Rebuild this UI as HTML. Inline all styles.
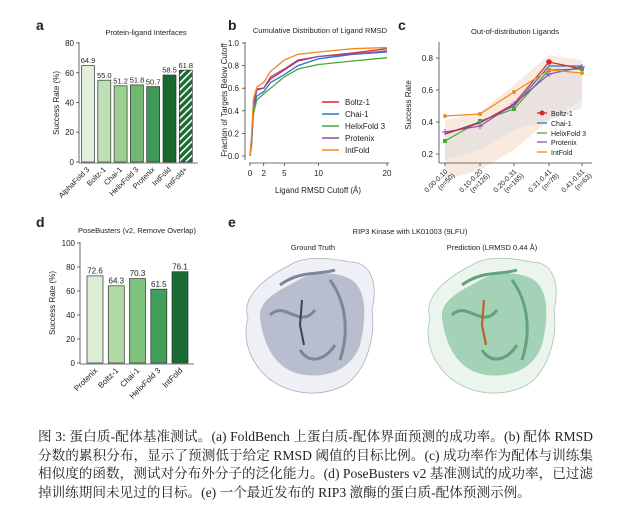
<!DOCTYPE html>
<html><head><meta charset="utf-8"><style>
body{margin:0;background:#fff;width:640px;height:525px;overflow:hidden;position:relative}
svg{position:absolute;left:0;top:0}
svg text{font-family:"Liberation Sans",Arial,sans-serif;fill:#222}
.cap{position:absolute;left:38px;width:555px;font-family:"Liberation Serif","Noto Serif CJK SC",serif;font-size:13.6px;color:#222;line-height:18.5px;top:428px}
.cap div{text-align:justify;text-align-last:justify;white-space:nowrap}
.cap div.l{text-align-last:left}
</style></head><body>
<svg width="640" height="525" viewBox="0 0 640 525">
<defs>
<pattern id="h" width="5" height="5" patternUnits="userSpaceOnUse" patternTransform="rotate(45)">
<rect width="5" height="5" fill="#1d6b33"/><rect width="1.6" height="5" fill="#fff"/></pattern>
</defs>
<g font-weight="bold" font-size="14">
<text x="36" y="30">a</text><text x="228" y="30">b</text><text x="398" y="30">c</text>
<text x="36" y="227">d</text><text x="228" y="227">e</text></g>

<!-- Panel a -->
<text x="146" y="35" font-size="7.5" text-anchor="middle">Protein-ligand Interfaces</text>
<g stroke="#444" stroke-width="0.8" fill="none">
<line x1="79" y1="42" x2="79" y2="163"/><line x1="79" y1="163" x2="198" y2="163"/>
<line x1="76" y1="43" x2="79" y2="43"/><line x1="76" y1="72.8" x2="79" y2="72.8"/><line x1="76" y1="102.5" x2="79" y2="102.5"/><line x1="76" y1="132.2" x2="79" y2="132.2"/><line x1="76" y1="162" x2="79" y2="162"/>
</g>
<g font-size="8" text-anchor="end"><text x="74" y="46">80</text><text x="74" y="76">60</text><text x="74" y="105.5">40</text><text x="74" y="135">20</text><text x="74" y="165">0</text></g>
<text transform="translate(59,103) rotate(-90)" font-size="8" text-anchor="middle">Success Rate (%)</text>
<g stroke="#333" stroke-width="0.7">
<rect x="81.5" y="65.5" width="13" height="96.5" fill="#e1efdb"/>
<rect x="97.8" y="80.2" width="13" height="81.8" fill="#bfe0b6"/>
<rect x="114.1" y="85.8" width="13" height="76.2" fill="#9ccf91"/>
<rect x="130.4" y="84.9" width="13" height="77.1" fill="#72b873"/>
<rect x="146.7" y="86.6" width="13" height="75.4" fill="#3e9a56"/>
<rect x="163" y="75" width="13" height="87" fill="#17692f"/>
<rect x="179.3" y="70.1" width="13" height="91.9" fill="url(#h)"/>
</g>
<g font-size="7.5" text-anchor="middle">
<text x="88" y="63">64.9</text><text x="104.3" y="78">55.0</text><text x="120.6" y="83.5">51.2</text><text x="137" y="82.6">51.8</text><text x="153.2" y="84.3">50.7</text><text x="169.5" y="72.7">58.5</text><text x="185.8" y="67.8">61.8</text></g>
<g font-size="7.5" text-anchor="end">
<text transform="translate(90,170) rotate(-45)">AlphaFold 3</text>
<text transform="translate(106.3,170) rotate(-45)">Boltz-1</text>
<text transform="translate(122.6,170) rotate(-45)">Chai-1</text>
<text transform="translate(139,170) rotate(-45)">HelixFold 3</text>
<text transform="translate(155.2,170) rotate(-45)">Protenix</text>
<text transform="translate(171.5,170) rotate(-45)">IntFold</text>
<text transform="translate(187.8,170) rotate(-45)">IntFold+</text></g>

<!-- Panel b -->
<text x="320" y="33" font-size="7.5" text-anchor="middle">Cumulative Distribution of Ligand RMSD</text>
<g stroke="#444" stroke-width="0.8">
<line x1="245" y1="42" x2="245" y2="160"/><line x1="249" y1="163" x2="389" y2="163"/>
<line x1="242" y1="43" x2="245" y2="43"/><line x1="242" y1="65.6" x2="245" y2="65.6"/><line x1="242" y1="88.2" x2="245" y2="88.2"/><line x1="242" y1="110.8" x2="245" y2="110.8"/><line x1="242" y1="133.4" x2="245" y2="133.4"/><line x1="242" y1="156" x2="245" y2="156"/>
<line x1="250" y1="163" x2="250" y2="166"/><line x1="263.7" y1="163" x2="263.7" y2="166"/><line x1="284.3" y1="163" x2="284.3" y2="166"/><line x1="318.5" y1="163" x2="318.5" y2="166"/><line x1="387" y1="163" x2="387" y2="166"/>
</g>
<g font-size="8" text-anchor="end"><text x="239" y="46">1.0</text><text x="239" y="68.6">0.8</text><text x="239" y="91.2">0.6</text><text x="239" y="113.8">0.4</text><text x="239" y="136.4">0.2</text><text x="239" y="159">0.0</text></g>
<g font-size="8" text-anchor="middle"><text x="250" y="176">0</text><text x="263.7" y="176">2</text><text x="284.3" y="176">5</text><text x="318.5" y="176">10</text><text x="387" y="176">20</text></g>
<text x="318" y="193" font-size="8" text-anchor="middle">Ligand RMSD Cutoff (Å)</text>
<text transform="translate(227,100) rotate(-90)" font-size="8" text-anchor="middle">Fraction of Targets Below Cutoff</text>
<g fill="none" stroke-width="1.3">
<polyline stroke="#4aa63c" points="250,156 251.5,145 253.4,114 256.8,100 263.7,93.8 270.6,88.2 284.3,76.9 298,69 318.5,64.5 352.8,61 387,57.7"/>
<polyline stroke="#2d74c0" points="250,156 251.5,145 253.4,108 256.8,96 263.7,91.6 270.6,82.5 284.3,74.6 298,65.6 318.5,58.8 352.8,54.3 387,52"/>
<polyline stroke="#d62728" points="250,156 251.5,140 253.4,105 256.8,89 263.7,88 270.6,79 284.3,70 298,61 318.5,56.5 352.8,53 387,48.7"/>
<polyline stroke="#8a4fb0" points="250,156 251.5,140 253.4,106 256.8,90 263.7,88.2 270.6,76.9 284.3,69 298,60 318.5,56.5 352.8,54 387,50.9"/>
<polyline stroke="#f28a1e" points="250,156 251.5,136 253.4,99 256.8,87 263.7,82.5 270.6,71.3 284.3,60 298,54.3 318.5,52 352.8,48.7 387,47.5"/>
</g>
<g stroke-width="1.5">
<line x1="322" y1="102" x2="339" y2="102" stroke="#d62728"/><line x1="322" y1="114" x2="339" y2="114" stroke="#2d74c0"/><line x1="322" y1="126" x2="339" y2="126" stroke="#4aa63c"/><line x1="322" y1="138" x2="339" y2="138" stroke="#8a4fb0"/><line x1="322" y1="150" x2="339" y2="150" stroke="#f28a1e"/></g>
<g font-size="8"><text x="345" y="105">Boltz-1</text><text x="345" y="117">Chai-1</text><text x="345" y="129">HelixFold 3</text><text x="345" y="141">Protenix</text><text x="345" y="153">IntFold</text></g>

<!-- Panel c -->
<text x="515" y="34" font-size="7.5" text-anchor="middle">Out-of-distribution Ligands</text>
<polygon points="445,120 480,112 514,85 549,55 582,60 582,100 549,120 514,150 480,170 445,180" fill="#f4d8c6" opacity="0.55"/>
<polygon points="445,135 480,125 514,100 549,62 582,75 582,108 549,120 514,130 480,150 445,160" fill="#d9d9dc" opacity="0.5"/>
<g stroke="#444" stroke-width="0.8">
<line x1="439" y1="42" x2="439" y2="163"/><line x1="439" y1="163" x2="592" y2="163"/>
<line x1="436" y1="58" x2="439" y2="58"/><line x1="436" y1="90" x2="439" y2="90"/><line x1="436" y1="122" x2="439" y2="122"/><line x1="436" y1="154" x2="439" y2="154"/>
<line x1="445" y1="163" x2="445" y2="166"/><line x1="480" y1="163" x2="480" y2="166"/><line x1="514" y1="163" x2="514" y2="166"/><line x1="549" y1="163" x2="549" y2="166"/><line x1="582" y1="163" x2="582" y2="166"/></g>
<g font-size="8" text-anchor="end"><text x="433" y="61">0.8</text><text x="433" y="93">0.6</text><text x="433" y="125">0.4</text><text x="433" y="157">0.2</text></g>
<text transform="translate(411,105) rotate(-90)" font-size="8" text-anchor="middle">Success Rate</text>
<g fill="none" stroke-width="1.2">
<polyline stroke="#4aa63c" points="445,141 480,121 514,109 549,70 582,69"/>
<polyline stroke="#2d74c0" points="445,134 480,122 514,106 549,66 582,66"/>
<polyline stroke="#8a4fb0" points="445,132 480,126 514,104 549,74 582,67"/>
<polyline stroke="#d62728" points="445,134 480,123 514,104 549,62 582,69"/>
<polyline stroke="#f28a1e" points="445,116 480,114 514,92 549,70 582,73"/>
</g>
<g>
<circle cx="549" cy="62" r="2.8" fill="#d62728"/>
<g fill="#4aa63c"><rect x="443" y="139" width="4" height="4"/><rect x="478" y="119" width="4" height="4"/><rect x="512" y="107" width="4" height="4"/><rect x="547" y="68" width="4" height="4"/><rect x="580" y="67" width="4" height="4"/></g>
<g fill="#f28a1e"><circle cx="445" cy="116" r="2"/><circle cx="480" cy="114" r="2"/><circle cx="514" cy="92" r="2"/><circle cx="549" cy="70" r="2"/><circle cx="582" cy="73" r="2"/></g>
<g stroke="#8a4fb0" stroke-width="1"><path d="M442,132h6M445,129v6M477,126h6M480,123v6M511,104h6M514,101v6M546,74h6M549,71v6M579,67h6M582,64v6"/></g>
</g>
<g font-size="7" text-anchor="end">
<text transform="translate(448,172) rotate(-45)">0.00-0.10</text><text transform="translate(455,176) rotate(-45)">(n=50)</text>
<text transform="translate(483,172) rotate(-45)">0.10-0.20</text><text transform="translate(490,176) rotate(-45)">(n=126)</text>
<text transform="translate(517,172) rotate(-45)">0.20-0.31</text><text transform="translate(524,176) rotate(-45)">(n=165)</text>
<text transform="translate(552,172) rotate(-45)">0.31-0.41</text><text transform="translate(559,176) rotate(-45)">(n=78)</text>
<text transform="translate(585,172) rotate(-45)">0.41-0.51</text><text transform="translate(592,176) rotate(-45)">(n=63)</text></g>
<g stroke-width="1.3"><line x1="537" y1="113" x2="547" y2="113" stroke="#d62728"/><line x1="537" y1="123" x2="547" y2="123" stroke="#2d74c0"/><line x1="537" y1="133" x2="547" y2="133" stroke="#4aa63c"/><line x1="537" y1="142" x2="547" y2="142" stroke="#8a4fb0"/><line x1="537" y1="152" x2="547" y2="152" stroke="#f28a1e"/></g>
<circle cx="542" cy="113" r="2.5" fill="#d62728"/>
<g font-size="7"><text x="551" y="116">Boltz-1</text><text x="551" y="126">Chai-1</text><text x="551" y="136">HelixFold 3</text><text x="551" y="145">Protenix</text><text x="551" y="155">IntFold</text></g>

<!-- Panel d -->
<text x="137" y="233" font-size="7.5" text-anchor="middle">PoseBusters (v2, Remove Overlap)</text>
<g stroke="#444" stroke-width="0.8">
<line x1="80" y1="242" x2="80" y2="364"/><line x1="80" y1="364" x2="194" y2="364"/>
<line x1="77" y1="243" x2="80" y2="243"/><line x1="77" y1="267" x2="80" y2="267"/><line x1="77" y1="291" x2="80" y2="291"/><line x1="77" y1="315" x2="80" y2="315"/><line x1="77" y1="339" x2="80" y2="339"/><line x1="77" y1="363" x2="80" y2="363"/></g>
<g font-size="8" text-anchor="end"><text x="75" y="246">100</text><text x="75" y="270">80</text><text x="75" y="294">60</text><text x="75" y="318">40</text><text x="75" y="342">20</text><text x="75" y="366">0</text></g>
<text transform="translate(55,303) rotate(-90)" font-size="8" text-anchor="middle">Success Rate (%)</text>
<g stroke="#333" stroke-width="0.7">
<rect x="87" y="275.9" width="16" height="87.1" fill="#dbeed4"/>
<rect x="108.3" y="285.8" width="16" height="77.2" fill="#b0d9a6"/>
<rect x="129.5" y="278.6" width="16" height="84.4" fill="#7fc27d"/>
<rect x="150.8" y="289.2" width="16" height="73.8" fill="#40a05a"/>
<rect x="172" y="271.7" width="16" height="91.3" fill="#196b33"/></g>
<g font-size="8" text-anchor="middle"><text x="95" y="273.5">72.6</text><text x="116.3" y="283.4">64.3</text><text x="137.5" y="276.2">70.3</text><text x="158.8" y="286.8">61.5</text><text x="180" y="269.3">76.1</text></g>
<g font-size="8" text-anchor="end">
<text transform="translate(98,371) rotate(-45)">Protenix</text><text transform="translate(119,371) rotate(-45)">Boltz-1</text><text transform="translate(140,371) rotate(-45)">Chai-1</text><text transform="translate(161,371) rotate(-45)">HelixFold 3</text><text transform="translate(183,371) rotate(-45)">IntFold</text></g>

<!-- Panel e -->
<text x="410" y="234" font-size="7.5" text-anchor="middle">RIP3 Kinase with LK01003 (9LFU)</text>
<text x="313" y="250" font-size="7.5" text-anchor="middle">Ground Truth</text>
<text x="492" y="250" font-size="7.5" text-anchor="middle">Prediction (LRMSD 0.44 Å)</text>
<path d="M248,318 C240,295 270,275 290,265 C305,255 330,258 350,262 C372,262 378,285 372,310 C376,340 365,372 345,385 C320,398 290,395 268,378 C250,362 242,340 248,318Z" fill="#eef0f5" stroke="#aab0bd" stroke-width="0.8"/>
<path d="M260,318 C258,300 280,290 295,282 C310,272 335,270 352,280 C368,292 366,320 360,345 C352,368 330,378 305,375 C282,372 265,355 260,318Z" fill="#aab2c4" opacity="0.8"/>
<path d="M270,315 C285,300 300,330 315,310 M330,280 C345,300 350,330 340,360 M300,350 C310,365 325,360 335,345 M280,285 C300,270 320,275 335,270" stroke="#7d869c" stroke-width="3" fill="none"/>
<path d="M302,300 L300,325 L304,345" stroke="#3d4150" stroke-width="2" fill="none"/>
<path d="M430,318 C422,295 452,275 472,265 C487,255 512,258 532,262 C554,262 560,285 554,310 C558,340 547,372 527,385 C502,398 472,395 450,378 C432,362 424,340 430,318Z" fill="#ebf5ee" stroke="#a8c3b2" stroke-width="0.8"/>
<path d="M442,318 C440,300 462,290 477,282 C492,272 517,270 534,280 C550,292 548,320 542,345 C534,368 512,378 487,375 C464,372 447,355 442,318Z" fill="#96cbab" opacity="0.85"/>
<path d="M452,315 C467,300 482,330 497,310 M512,280 C527,300 532,330 522,360 M482,350 C492,365 507,360 517,345 M462,285 C482,270 502,275 517,270" stroke="#62a27e" stroke-width="3" fill="none"/>
<path d="M484,300 L482,325 L486,345" stroke="#b5652a" stroke-width="2.2" fill="none"/>
</svg>
<div class="cap">
<div>图 3: 蛋白质-配体基准测试。(a) FoldBench 上蛋白质-配体界面预测的成功率。(b) 配体 RMSD</div>
<div>分数的累积分布，显示了预测低于给定 RMSD 阈值的目标比例。(c) 成功率作为配体与训练集</div>
<div>相似度的函数，测试对分布外分子的泛化能力。(d) PoseBusters v2 基准测试的成功率，已过滤</div>
<div class="l">掉训练期间未见过的目标。(e) 一个最近发布的 RIP3 激酶的蛋白质-配体预测示例。</div>
</div>
</body></html>
